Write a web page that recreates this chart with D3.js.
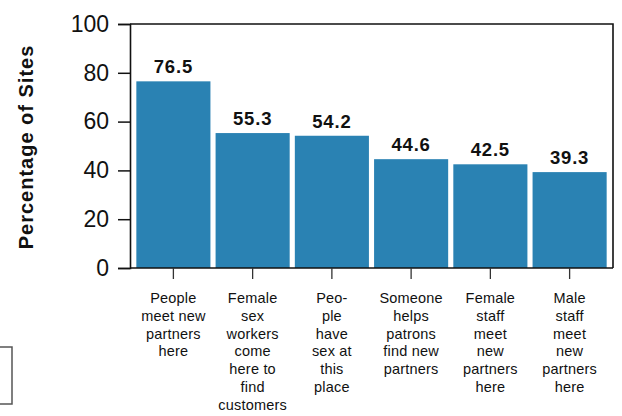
<!DOCTYPE html>
<html>
<head>
<meta charset="utf-8">
<script src="https://cdn.jsdelivr.net/npm/d3@7"></script>
<style>
  html, body { margin: 0; padding: 0; background: #fff; }
  svg { display: block; font-family: "Liberation Sans", Arial, Helvetica, sans-serif; }
</style>
</head>
<body>
<svg id="chart" width="622" height="416"></svg>
<script>
// ---- data ----
const categories = [
  "People meet new partners here",
  "Female sex workers come here to find customers",
  "People have sex at this place",
  "Someone helps patrons find new partners",
  "Female staff meet new partners here",
  "Male staff meet new partners here"
];
const tickLabelLines = [
  ["People", "meet new", "partners", "here"],
  ["Female", "sex", "workers", "come", "here to", "find", "customers"],
  ["Peo-", "ple", "have", "sex at", "this", "place"],
  ["Someone", "helps", "patrons", "find new", "partners"],
  ["Female", "staff", "meet", "new", "partners", "here"],
  ["Male", "staff", "meet", "new", "partners", "here"]
];
const values = [76.5, 55.3, 54.2, 44.6, 42.5, 39.3];
const yTicks = [0, 20, 40, 60, 80, 100];
const yTitle = "Percentage of Sites";

// ---- layout ----
const svg = d3.select("#chart");
const pLeft = 130, pRight = 613, pTop = 24, pBottom = 268;

const x = d3.scaleBand()
  .domain(categories)
  .range([pLeft, pRight])
  .paddingInner(0.065)
  .paddingOuter(0.08);

const y = d3.scaleLinear().domain([0, 100]).range([pBottom, pTop]);

// bars
svg.append("g").selectAll("rect")
  .data(values)
  .join("rect")
  .attr("x", (d, i) => x(categories[i]))
  .attr("width", x.bandwidth())
  .attr("y", d => y(d))
  .attr("height", d => y(0) - y(d))
  .attr("fill", "#2a82b3");

// value labels
svg.append("g").selectAll("text")
  .data(values)
  .join("text")
  .attr("x", (d, i) => x(categories[i]) + x.bandwidth() / 2)
  .attr("y", d => y(d) - 8)
  .attr("text-anchor", "middle")
  .attr("font-size", "18.5px")
  .attr("font-weight", "bold")
  .attr("letter-spacing", "0.8px")
  .attr("fill", "#111")
  .text(d => d.toFixed(1));

// frame top + right
svg.append("path")
  .attr("d", `M${pLeft},${pTop}H${pRight}V${pBottom}`)
  .attr("fill", "none")
  .attr("stroke", "#111")
  .attr("stroke-width", 1.6);

// y axis
const yAxis = svg.append("g")
  .attr("transform", `translate(${pLeft},0)`)
  .call(d3.axisLeft(y).tickValues(yTicks).tickSize(12).tickPadding(9).tickFormat(d3.format("d")));
yAxis.select(".domain").attr("stroke", "#111").attr("stroke-width", 1.6);
yAxis.selectAll(".tick line").attr("stroke", "#111").attr("stroke-width", 1.5);
yAxis.selectAll(".tick text")
  .attr("font-size", "23px")
  .attr("font-family", "Liberation Sans, Arial, sans-serif")
  .attr("fill", "#111");

// x axis
const xAxis = svg.append("g")
  .attr("transform", `translate(0,${pBottom})`)
  .call(d3.axisBottom(x).tickSize(11).tickFormat(""));
xAxis.select(".domain").attr("d", `M${pLeft},0H${pRight}`).attr("stroke", "#111").attr("stroke-width", 1.6);
xAxis.selectAll(".tick line").attr("stroke", "#333").attr("stroke-width", 1.3);

// multi-line category labels
const lab = svg.append("g").selectAll("text")
  .data(categories)
  .join("text")
  .attr("x", d => x(d) + x.bandwidth() / 2)
  .attr("y", 303)
  .attr("text-anchor", "middle")
  .attr("font-size", "14.5px")
  .attr("letter-spacing", "0.2px")
  .attr("fill", "#111");
lab.each(function(d, i) {
  d3.select(this).selectAll("tspan")
    .data(tickLabelLines[i])
    .join("tspan")
    .attr("x", x(d) + x.bandwidth() / 2)
    .attr("dy", (t, j) => j === 0 ? 0 : 17.8)
    .text(t => t);
});

// y title
svg.append("text")
  .attr("transform", `translate(33,${(pTop + pBottom) / 2 + 1}) rotate(-90)`)
  .attr("text-anchor", "middle")
  .attr("font-size", "20px")
  .attr("font-weight", "bold")
  .attr("letter-spacing", "1px")
  .attr("fill", "#111")
  .text(yTitle);

// partial legend box remnant at bottom-left
svg.append("path")
  .attr("d", "M0,347H12V404H0")
  .attr("fill", "none")
  .attr("stroke", "#555")
  .attr("stroke-width", 1.5);
</script>
</body>
</html>
